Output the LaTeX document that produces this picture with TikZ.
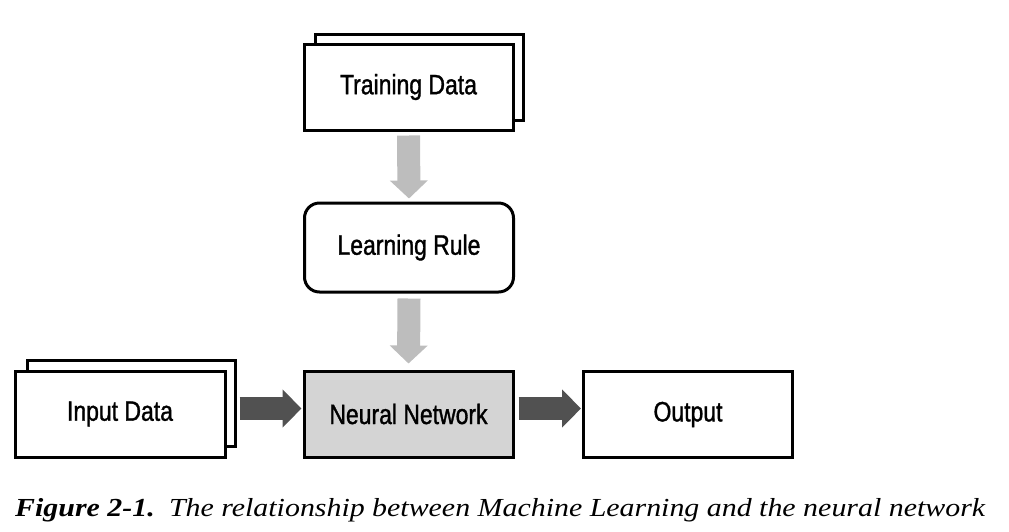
\documentclass[tikz,border=0pt]{standalone}
\usepackage{fontspec}
\usetikzlibrary{arrows.meta,calc}
\newfontfamily\boxfont[FakeStretch=0.82,FakeBold=1.2]{Liberation Sans}
\newfontfamily\capfont[FakeStretch=1.15]{Liberation Serif}
\definecolor{nnfill}{HTML}{D4D4D4}
\definecolor{lightarrow}{HTML}{BDBDBD}
\definecolor{darkarrow}{HTML}{515151}
\tikzset{
  box/.style={draw=black, line width=3pt, fill=white, minimum width=209pt, minimum height=86pt, inner sep=0pt, font=\boxfont\fontsize{28}{32}\selectfont},
  backbox/.style={draw=black, line width=3pt, fill=white, minimum width=208pt, minimum height=86pt, inner sep=0pt},
  grayarrow/.style={draw=lightarrow, line width=23pt, -{Triangle[length=18pt,width=37pt]}},
  darkarrowstyle/.style={draw=darkarrow, line width=23pt, -{Triangle[length=19pt,width=37pt]}},
}
\begin{document}
\begin{tikzpicture}[x=1pt,y=-1pt]
\useasboundingbox (0,0) rectangle (1009,531);
% training data stack
\node[backbox] (tdback) at (419.5,77) {};
\node[box] (td) at (408.5,87) {Training Data};
% learning rule
\node[box, rounded corners=15pt, minimum height=89pt] (lr) at (409,247.5) {Learning Rule};
% neural network
\node[box, fill=nnfill] (nn) at (408.5,414) {Neural Network};
% input data stack
\node[backbox, minimum width=208pt] (inback) at (131,403.5) {};
\node[box, minimum width=210pt] (inp) at (120,414) {Input Data};
% output
\node[box] (out) at (688,414.5) {Output};
% arrows
\draw[grayarrow] ($(td.south)+(0,4)$) -- ($(lr.north)+(0,-3)$);
\draw[grayarrow] ($(lr.south)+(0,5)$) -- ($(nn.north)+(0,-6)$);
\draw[darkarrowstyle] ($(inback.east)+(3,5)$) -- ($(nn.west)+(-1,-5.5)$);
\draw[darkarrowstyle] ($(nn.east)+(4,-5.5)$) -- ($(out.west)+(-1,-6)$);
% caption
\node[anchor=base west, inner sep=0pt, font=\capfont\fontsize{26}{30}\selectfont] (cap) at (15,516)
  {\textbf{\textit{Figure 2-1.}}\hspace{0.55em}\textit{The relationship between Machine Learning and the neural network}};
\end{tikzpicture}
\end{document}
